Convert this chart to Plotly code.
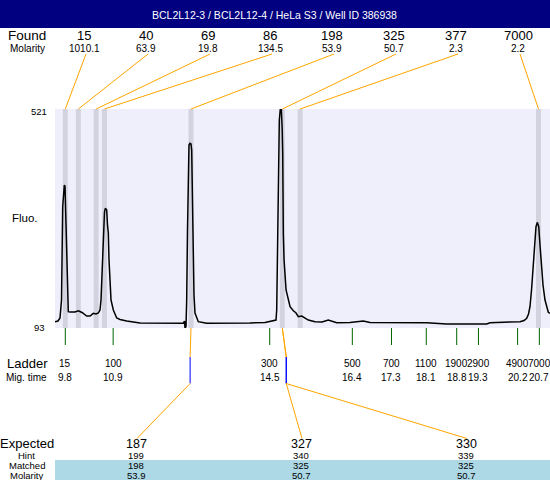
import plotly.graph_objects as go

# ---------------- data ----------------
title_text = "BCL2L12-3 / BCL2L12-4 / HeLa S3 / Well ID 386938"

trace_time = [9.563, 9.632, 9.678, 9.713, 9.740, 9.759, 9.777, 9.793, 9.816, 9.839,
              9.855, 9.869, 9.908, 10.023, 10.099, 10.184, 10.292, 10.368, 10.444, 10.506,
              10.559, 10.598, 10.621, 10.644, 10.674, 10.701, 10.720, 10.752, 10.770, 10.789,
              10.805, 10.828, 10.851, 10.904, 10.982, 11.058, 11.212, 11.518, 11.978, 12.513,
              12.541, 12.552, 12.575, 12.591, 12.610, 12.628, 12.644, 12.667, 12.690, 12.706,
              12.725, 12.743, 12.759, 12.782, 12.817, 12.858, 13.051, 13.587, 14.047, 14.392,
              14.583, 14.645, 14.661, 14.680, 14.698, 14.721, 14.744, 14.767, 14.788, 14.799,
              14.813, 14.830, 14.876, 14.922, 14.968, 15.044, 15.106, 15.158, 15.237, 15.313,
              15.388, 15.542, 15.703, 15.847, 15.933, 16.041, 16.346, 16.652, 16.806, 17.342,
              18.110, 18.570, 19.490, 19.566, 20.256, 20.348, 20.409, 20.451, 20.485, 20.520,
              20.561, 20.623, 20.653, 20.686, 20.715, 20.754, 20.784, 20.830, 20.906, 20.945]
trace_fluo = [105.3, 106.7, 112.5, 147.7, 330.0, 363.0, 372.4, 370.0, 278.6, 186.8,
              147.7, 124.9, 124.3, 124.3, 126.8, 123.3, 116.4, 116.4, 121.7, 120.4,
              122.3, 128.2, 147.7, 206.3, 278.6, 319.6, 326.9, 323.6, 294.3, 278.6,
              225.9, 180.9, 147.7, 128.2, 112.5, 109.6, 106.7, 102.8, 102.2, 102.2,
              106.7, 93.0, 95.5, 147.7, 284.5, 408.2, 450.6, 454.0, 452.6, 440.8,
              323.6, 212.8, 157.5, 122.3, 112.5, 105.3, 102.2, 101.8, 102.8, 103.7,
              107.3, 108.6, 128.2, 245.4, 343.1, 499.4, 521.0, 521.0, 479.9, 435.0,
              278.6, 225.9, 167.3, 147.7, 134.6, 126.8, 122.3, 115.1, 116.4, 112.5,
              108.6, 105.3, 104.7, 108.6, 105.7, 103.4, 103.7, 106.7, 103.7, 103.4,
              103.4, 100.8, 100.8, 103.4, 105.3, 107.7, 112.0, 120.4, 134.6, 167.3,
              212.8, 290.9, 299.5, 290.9, 255.2, 212.8, 177.0, 147.7, 123.7, 121.7]

found_size = ["15", "40", "69", "86", "198", "325", "377", "7000"]
found_molarity = ["1010.1", "63.9", "19.8", "134.5", "53.9", "50.7", "2.3", "2.2"]
found_time = [9.80, 10.10, 10.51, 10.70, 12.69, 14.79, 15.20, 20.68]

ladder_size = ["15", "100", "300", "500", "700", "1100", "1900", "2900", "4900", "7000"]
ladder_time = [9.8, 10.9, 14.5, 16.4, 17.3, 18.1, 18.8, 19.3, 20.2, 20.7]

expected_size = ["187", "327", "330"]
hint_size = ["199", "340", "339"]
matched_size = ["198", "325", "325"]
matched_molarity = ["53.9", "50.7", "50.7"]
matched_found_idx = [4, 5, 5]
expected_marker_time = [12.67, 14.88, 14.88]

y_min, y_max = 93, 521
x_min, x_max = 9.563, 20.945

# ---------------- layout geometry (pixels) ----------------
W, H = 550, 480
L, T, B = 55, 109, 328
FONT = "Liberation Sans, Arial, sans-serif"
ORANGE = "#FFA500"
BLUE = "#0000FF"
GREEN = "#006400"


def fx(px):
    return (px - L) / (W - L)


def fy(py):
    return (B - py) / (B - T)


def tpx(t):
    return L + (t - x_min) / (x_max - x_min) * (W - L)


fig = go.Figure()
fig.add_trace(go.Scatter(x=trace_time, y=trace_fluo, mode="lines",
                         line=dict(color="black", width=1.5), hoverinfo="skip",
                         showlegend=False))

shapes = []
annotations = []


def text(s, px, py, size, color="black", xanchor="center"):
    annotations.append(dict(text=s, x=fx(px), y=fy(py), xref="paper", yref="paper",
                            showarrow=False, xanchor=xanchor, yanchor="middle",
                            borderpad=0,
                            font=dict(family=FONT, size=size, color=color)))


def seg(x0, y0, x1, y1, color, width=1):
    shapes.append(dict(type="line", xref="paper", yref="paper",
                       x0=fx(x0), y0=fy(y0), x1=fx(x1), y1=fy(y1),
                       line=dict(color=color, width=width)))


# title bar
shapes.append(dict(type="rect", xref="paper", yref="paper", x0=fx(0), x1=fx(W),
                   y0=fy(0), y1=fy(28), fillcolor="#000080", line=dict(width=0)))
text(title_text, 274, 14.5, 10.5, color="white")

# found bands
for t in found_time:
    shapes.append(dict(type="rect", xref="x", yref="paper", x0=t - 0.057, x1=t + 0.057,
                       y0=0, y1=1, fillcolor="#D3D3E0", line=dict(width=0), layer="below"))

# found labels + connectors
text("Found", 26.5, 35.5, 13.5)
text("Molarity", 27, 48.5, 10)
for i, (s, m, t) in enumerate(zip(found_size, found_molarity, found_time)):
    lx = 84 + 62 * i
    text(s, lx, 35.5, 13)
    text(m, lx, 48, 10)
    seg(lx + 2, 54, tpx(t), T, ORANGE)

# axis labels
text("521", 48, 111, 9.5, xanchor="right")
text("93", 46, 327, 9.5, xanchor="right")
text("Fluo.", 25, 218, 11.5)

# ladder
text("Ladder", 27, 363.3, 13)
text("Mig. time", 26.5, 377, 10)
for s, t in zip(ladder_size, ladder_time):
    px = tpx(t)
    seg(px, B, px, 345, GREEN)
    text(s, px, 363.3, 10)
    text(str(t), px, 377, 10)

# expected / matched
shapes.append(dict(type="rect", xref="paper", yref="paper", x0=fx(55), x1=fx(W),
                   y0=fy(460), y1=fy(480), fillcolor="#ADD8E6", line=dict(width=0),
                   layer="below"))
text("Expected", 27, 443.3, 13)
text("Hint", 26, 455, 9.5)
text("Matched", 26.5, 465, 9.5)
text("Molarity", 26.7, 475, 9.5)
for i, (e, h, m, mol) in enumerate(zip(expected_size, hint_size, matched_size, matched_molarity)):
    cx = 136 + 165 * i
    text(e, cx, 443.5, 12.5)
    text(h, cx, 455, 9.5)
    text(m, cx, 465, 9.5)
    text(mol, cx, 475, 9.5)
    mx = tpx(expected_marker_time[i])
    bx = tpx(found_time[matched_found_idx[i]])
    seg(bx, B, mx, 357, ORANGE)
    seg(mx, 357, mx, 383.5, BLUE)
    seg(mx, 383.5, cx + 1, 438.5, ORANGE)

fig.update_layout(
    width=W, height=H,
    margin=dict(l=L, r=0, t=T, b=H - B, pad=0),
    paper_bgcolor="white", plot_bgcolor="#EFEFFB",
    xaxis=dict(range=[x_min, x_max], showgrid=False, zeroline=False, showticklabels=False,
               ticks="", showline=False, fixedrange=True),
    yaxis=dict(range=[y_min, y_max], showgrid=False, zeroline=False, showticklabels=False,
               ticks="", showline=False, fixedrange=True),
    shapes=shapes, annotations=annotations, showlegend=False,
)

fig.write_html("out.html", config={"displayModeBar": False},
               post_script="document.body.style.margin='0';")
